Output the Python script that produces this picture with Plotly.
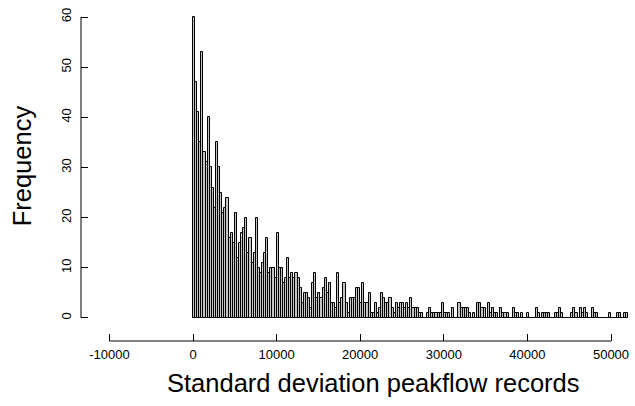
import numpy as np
import plotly.graph_objects as go

# ---- data ----
bin_width = 250
counts = [
    60, 47, 41, 35, 53, 33, 31, 40, 30, 26,
    22, 35, 30, 25, 21, 22, 24, 16, 17, 15,
    21, 12, 15, 17, 18, 20, 13, 16, 11, 13,
    20, 10, 9, 11, 13, 16, 9, 10, 10, 8,
    17, 10, 10, 7, 8, 12, 8, 9, 8, 9,
    8, 6, 3, 5, 5, 4, 2, 7, 9, 4,
    5, 4, 6, 8, 5, 7, 3, 3, 2, 9,
    3, 4, 7, 3, 1, 4, 4, 4, 6, 6,
    3, 7, 3, 3, 5, 1, 1, 3, 1, 2,
    5, 4, 3, 3, 4, 2, 1, 3, 2, 3,
    3, 2, 3, 2, 4, 2, 2, 2, 1, 1,
    0, 0, 1, 2, 1, 1, 1, 1, 1, 3,
    1, 1, 1, 0, 2, 0, 0, 3, 2, 2,
    2, 2, 1, 0, 1, 0, 3, 3, 2, 2,
    0, 3, 1, 2, 1, 1, 0, 2, 1, 1,
    1, 0, 0, 2, 1, 1, 0, 1, 0, 0,
    1, 0, 0, 0, 2, 1, 0, 1, 1, 1,
    1, 0, 0, 1, 1, 2, 1, 0, 0, 0,
    0, 1, 2, 1, 0, 2, 1, 2, 1, 0,
    0, 2, 1, 1, 0, 0, 0, 0, 0, 1,
    0, 0, 0, 1, 1, 0, 1, 1,
]
x_ticks = [-10000, 0, 10000, 20000, 30000, 40000, 50000]
y_ticks = [0, 10, 20, 30, 40, 50, 60]
x_title = "Standard deviation peakflow records"
y_title = "Frequency"

edges = np.arange(len(counts) + 1) * bin_width
centers = edges[:-1] + bin_width / 2

font_family = "Liberation Sans, Arial, sans-serif"

fig = go.Figure(
    go.Bar(
        x=centers,
        y=counts,
        width=bin_width,
        marker=dict(color="#c4c4c4", line=dict(color="black", width=1)),
        hoverinfo="x+y",
    )
)

fig.update_layout(
    width=635,
    height=406,
    margin=dict(l=81, r=3, t=5, b=65, autoexpand=False),
    paper_bgcolor="white",
    plot_bgcolor="white",
    showlegend=False,
    bargap=0,
    font=dict(family=font_family, color="black", size=13),
    xaxis=dict(
        range=[-13397, 52512],
        tickvals=x_ticks,
        ticktext=[str(v) for v in x_ticks],
        ticks="inside",
        ticklen=7,
        tickwidth=1,
        tickcolor="black",
        ticklabelstandoff=4,
        showline=False,
        showgrid=False,
        zeroline=False,
        automargin=False,
        tickfont=dict(size=13, family=font_family, color="black"),
    ),
    yaxis=dict(
        range=[-4.6, 62.4],
        tickvals=y_ticks,
        ticktext=[str(v) for v in y_ticks],
        tickangle=-90,
        ticks="inside",
        ticklen=7,
        tickwidth=1,
        tickcolor="black",
        ticklabelstandoff=6,
        showline=False,
        showgrid=False,
        zeroline=False,
        automargin=False,
        tickfont=dict(size=13, family=font_family, color="black"),
    ),
    shapes=[
        dict(type="line", xref="x", yref="paper",
             x0=x_ticks[0], x1=x_ticks[-1], y0=0, y1=0,
             line=dict(color="black", width=1)),
        dict(type="line", xref="paper", yref="y",
             x0=0, x1=0, y0=y_ticks[0], y1=y_ticks[-1],
             line=dict(color="black", width=1)),
    ],
    annotations=[
        dict(text=x_title, xref="paper", yref="paper", x=0.53, y=-0.125,
             xanchor="center", yanchor="middle", showarrow=False,
             font=dict(size=25.5, family=font_family, color="black")),
        dict(text=y_title, xref="paper", yref="paper", x=-0.107, y=0.52,
             xanchor="center", yanchor="middle", showarrow=False, textangle=-90,
             font=dict(size=25.5, family=font_family, color="black")),
    ],
)

fig.write_html(
    "out.html",
    config={"displayModeBar": False},
    post_script="document.body.style.margin='0px';document.body.style.padding='0px';",
)
